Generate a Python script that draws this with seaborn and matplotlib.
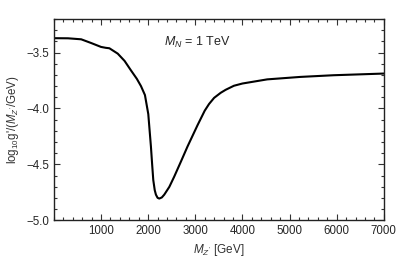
import pandas as pd
import seaborn as sns
import matplotlib.pyplot as plt
from matplotlib.ticker import MultipleLocator

# values
mzp = [0, 300, 580, 790, 1000, 1100, 1178, 1355, 1500, 1636, 1760, 1848, 1932,
       2003, 2030, 2059, 2085, 2109, 2140, 2165, 2200, 2236, 2290, 2342, 2450,
       2552, 2700, 2835, 3047, 3200, 3292, 3400, 3539, 3645, 3820, 4000, 4526,
       5230, 5934, 7000]
log_g = [-3.372, -3.373, -3.382, -3.415, -3.450, -3.458, -3.462, -3.510, -3.575,
         -3.660, -3.735, -3.800, -3.880, -4.050, -4.190, -4.340, -4.500, -4.640,
         -4.730, -4.770, -4.798, -4.805, -4.795, -4.770, -4.700, -4.610, -4.470,
         -4.340, -4.150, -4.020, -3.960, -3.905, -3.860, -3.833, -3.797, -3.777,
         -3.740, -3.718, -3.703, -3.688]

df = pd.DataFrame({"mzp": mzp, "log_g": log_g})

sns.set_style("ticks")
plt.rcParams['font.family'] = ['Liberation Sans', 'DejaVu Sans']
plt.rcParams['mathtext.fontset'] = 'custom'
plt.rcParams['mathtext.rm'] = 'Liberation Sans'
plt.rcParams['mathtext.it'] = 'Liberation Sans:italic'

fig = plt.figure(figsize=(3.99, 2.63), dpi=100)
ax = fig.add_axes([0.135, 0.162, 0.827, 0.766])
sns.lineplot(data=df, x="mzp", y="log_g", ax=ax, color="black", linewidth=1.5)

ax.set_xlim(0, 7000)
ax.set_ylim(-5.0, -3.2)
ax.xaxis.set_major_locator(MultipleLocator(1000))
ax.xaxis.set_minor_locator(MultipleLocator(200))
ax.yaxis.set_major_locator(MultipleLocator(0.5))
ax.yaxis.set_minor_locator(MultipleLocator(0.1))
ax.set_xticks([1000, 2000, 3000, 4000, 5000, 6000, 7000])
ax.set_yticks([-5.0, -4.5, -4.0, -3.5])
ax.set_yticklabels(["\u22125.0", "\u22124.5", "\u22124.0", "\u22123.5"])
ax.tick_params(which="both", direction="in", top=True, right=True, labelsize=8.3,
               color="#333333", width=0.8, pad=3)
ax.tick_params(which="major", length=4)
ax.tick_params(which="minor", length=2)
for s in ax.spines.values():
    s.set_linewidth(1.0)
    s.set_color("#222222")

ax.set_xlabel("$M_{Z'}$ [GeV]", fontsize=8.5, color="#333333")
ax.set_ylabel("log$_{10}$g'/($M_{Z'}$/GeV)", fontsize=8.3, color="#333333")
ax.text(2330, -3.445, "$M_N$ = 1 TeV", fontsize=9)

fig.savefig("out.png", dpi=100)
